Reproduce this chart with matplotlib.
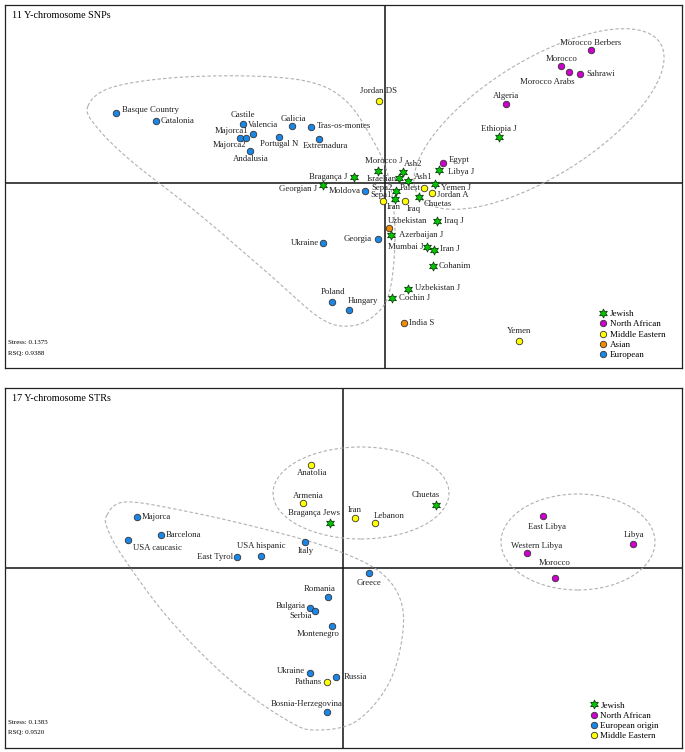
import numpy as np
import matplotlib
matplotlib.use("Agg")
import matplotlib.pyplot as plt
from matplotlib.patches import Ellipse
from matplotlib.lines import Line2D

plt.rcParams['font.family'] = ['Liberation Serif', 'DejaVu Serif']

# ---------------- 11 Y-chromosome SNPs ----------------
snp_names = ['Basque Country', 'Catalonia', 'Castile', 'Majorca1', 'Majorca2', 'Valencia',
             'Andalusia', 'Portugal N', 'Galicia', 'Tras-os-montes', 'Extremadura', 'Moldova',
             'Ukraine', 'Georgia', 'Poland', 'Hungary',
             'Bragança J', 'Georgian J', 'Morocco J', 'Ash2', 'Israelian', 'Ash1', 'Libya J',
             'Yemen J', 'Sepa2', 'Sepa1', 'Chuetas', 'Iraq J', 'Azerbaijan J', 'Mumbai J',
             'Iran J', 'Cohanim', 'Uzbekistan J', 'Cochin J', 'Ethiopia J',
             'Egypt', 'Algeria', 'Morocco', 'Morocco Arabs', 'Sahrawi', 'Morocco Berbers',
             'Jordan DS', 'Palest', 'Jordan A', 'Iran', 'Iraq', 'Yemen',
             'Uzbekistan', 'India S']
snp_x = [-2.69, -2.29, -1.42, -1.45, -1.39, -1.32, -1.35, -1.06, -0.93, -0.74, -0.66, -0.20,
         -0.62, -0.07, -0.53, -0.36,
         -0.31, -0.62, -0.07, 0.18, 0.14, 0.23, 0.54, 0.50, 0.11, 0.10, 0.34, 0.52, 0.06,
         0.42, 0.49, 0.48, 0.23, 0.07, 1.14,
         0.58, 1.21, 1.76, 1.84, 1.95, 2.06,
         -0.06, 0.39, 0.47, -0.02, 0.20, 1.34,
         0.04, 0.19]
snp_y = [0.70, 0.62, 0.59, 0.45, 0.45, 0.49, 0.32, 0.46, 0.57, 0.56, 0.44, -0.08,
         -0.60, -0.56, -1.19, -1.27,
         0.06, -0.02, 0.12, 0.11, 0.05, 0.02, 0.13, -0.01, -0.08, -0.16, -0.14, -0.38, -0.52,
         -0.64, -0.67, -0.83, -1.06, -1.15, 0.46,
         0.20, 0.79, 1.17, 1.11, 1.09, 1.33,
         0.82, -0.05, -0.10, -0.18, -0.18, -1.58,
         -0.45, -1.40]
snp_group = ['European'] * 16 + ['Jewish'] * 19 + ['North African'] * 6 + \
            ['Middle Eastern'] * 6 + ['Asian'] * 2
snp_groups = ['Jewish', 'North African', 'Middle Eastern', 'Asian', 'European']
snp_stats = ['Stress: 0.1375', 'RSQ: 0.9388']

# ---------------- 17 Y-chromosome STRs ----------------
str_names = ['Bragança Jews', 'Chuetas',
             'East Libya', 'Libya', 'Western Libya', 'Morocco',
             'Majorca', 'Barcelona', 'USA caucasic', 'East Tyrol', 'USA hispanic', 'Italy',
             'Greece', 'Romania', 'Bulgaria', 'Serbia', 'Montenegro', 'Ukraine', 'Russia',
             'Bosnia-Herzegovina',
             'Anatolia', 'Armenia', 'Iran', 'Lebanon', 'Pathans']
str_x = [-0.13, 0.93,
         2.00, 2.90, 1.84, 2.12,
         -2.06, -1.82, -2.15, -1.06, -0.82, -0.38,
         0.26, -0.15, -0.33, -0.28, -0.11, -0.33, -0.07, -0.16,
         -0.32, -0.40, 0.12, 0.32, -0.16]
str_y = [0.45, 0.63,
         0.52, 0.24, 0.15, -0.10,
         0.51, 0.33, 0.28, 0.11, 0.12, 0.26,
         -0.05, -0.29, -0.40, -0.43, -0.58, -1.05, -1.09, -1.44,
         1.03, 0.65, 0.50, 0.45, -1.14]
str_group = ['Jewish'] * 2 + ['North African'] * 4 + ['European origin'] * 14 + \
            ['Middle Eastern'] * 5
str_groups = ['Jewish', 'North African', 'European origin', 'Middle Eastern']
str_stats = ['Stress: 0.1383', 'RSQ: 0.9520']

# ---------------- styling / layout ----------------
colors = {'Jewish': '#00c800', 'North African': '#cc00cc', 'Middle Eastern': '#ffff00',
          'Asian': '#f08c00', 'European': '#1a86e6', 'European origin': '#1a86e6'}

# label offsets in pixels (dx, dy, ha)
snp_lab = {'Basque Country': (6, 3, 'left'), 'Catalonia': (5, 0, 'left'),
           'Castile': (0, 9, 'center'), 'Majorca1': (8, 7, 'right'),
           'Majorca2': (0, -7, 'right'), 'Valencia': (-5, 9, 'left'),
           'Andalusia': (1, -8, 'center'), 'Portugal N': (0, -7, 'center'),
           'Galicia': (1, 7, 'center'), 'Tras-os-montes': (6, 1, 'left'),
           'Extremadura': (6, -7, 'center'), 'Moldova': (-4, 0, 'right'),
           'Ukraine': (-4, 0, 'right'), 'Georgia': (-6, 0, 'right'),
           'Poland': (1, 10, 'center'), 'Hungary': (-1, 9, 'left'),
           'Bragança J': (-7, 0, 'right'), 'Georgian J': (-6, -4, 'right'),
           'Morocco J': (6, 10, 'center'), 'Ash2': (1, 8, 'left'),
           'Israelian': (-2, -1, 'right'), 'Ash1': (6, 4, 'left'),
           'Libya J': (9, -2, 'left'), 'Yemen J': (6, -4, 'left'),
           'Sepa2': (-3, 3, 'right'), 'Sepa1': (-3, 4, 'right'),
           'Chuetas': (5, -7, 'left'), 'Iraq J': (7, 0, 'left'),
           'Azerbaijan J': (8, 0, 'left'), 'Mumbai J': (-3, 0, 'right'),
           'Iran J': (6, 1, 'left'), 'Cohanim': (6, 0, 'left'),
           'Uzbekistan J': (7, 1, 'left'), 'Cochin J': (7, 0, 'left'),
           'Ethiopia J': (0, 8, 'center'), 'Egypt': (6, 3, 'left'),
           'Algeria': (0, 8, 'center'), 'Morocco': (1, 7, 'center'),
           'Morocco Arabs': (6, -10, 'right'), 'Sahrawi': (6, 0, 'left'),
           'Morocco Berbers': (0, 7, 'center'), 'Jordan DS': (0, 10, 'center'),
           'Palest': (-3, 0, 'right'), 'Jordan A': (5, -2, 'left'),
           'Iran': (4, -6, 'left'), 'Iraq': (2, -8, 'left'),
           'Yemen': (0, 10, 'center'), 'Uzbekistan': (-1, 7, 'left'),
           'India S': (5, 0, 'left')}
str_lab = {'Anatolia': (1, -8, 'center'), 'Armenia': (5, 7, 'center'),
           'Bragança Jews': (-16, 10, 'center'), 'Iran': (0, 8, 'center'),
           'Lebanon': (-1, 7, 'left'), 'Chuetas': (-10, 10, 'center'),
           'Italy': (1, -9, 'center'), 'Majorca': (5, 0, 'left'),
           'Barcelona': (5, 0, 'left'), 'USA caucasic': (5, -8, 'left'),
           'East Tyrol': (-4, 0, 'right'), 'USA hispanic': (0, 10, 'center'),
           'Greece': (0, -10, 'center'), 'Romania': (-8, 8, 'center'),
           'Bulgaria': (-4, 2, 'right'), 'Serbia': (-14, -5, 'center'),
           'Montenegro': (-14, -8, 'center'), 'Ukraine': (-5, 2, 'right'),
           'Pathans': (-5, 0, 'right'), 'Russia': (8, 0, 'left'),
           'Bosnia-Herzegovina': (-20, 8, 'center'), 'Libya': (1, 9, 'center'),
           'Western Libya': (10, 7, 'center'), 'Morocco': (0, 15, 'center'),
           'East Libya': (4, -11, 'center')}

# hand-traced cluster outlines (data units)
snp_loop = [(-2.97, 0.77), (-2.75, 0.95), (-2.15, 1.05), (-1.35, 1.07), (-0.75, 1.01),
            (-0.40, 0.83), (-0.15, 0.48), (0.03, 0.08), (0.10, -0.47), (0.05, -1.07),
            (-0.10, -1.32), (-0.35, -1.43), (-0.65, -1.35), (-1.15, -0.92), (-1.85, -0.32),
            (-2.55, 0.23), (-2.90, 0.58)]
str_loop = [(-2.36, 0.53), (-2.18, 0.66), (-1.63, 0.58), (-0.83, 0.40), (-0.13, 0.20),
            (0.37, -0.04), (0.59, -0.37), (0.57, -0.82), (0.42, -1.22), (0.12, -1.54),
            (-0.25, -1.62), (-0.53, -1.54), (-1.13, -1.12), (-1.73, -0.52), (-2.18, 0.08),
            (-2.35, 0.38)]


def closed_curve(pts, n=30):
    p = np.array(pts)
    m = len(p)
    out = []
    for i in range(m):
        p0, p1, p2, p3 = p[i - 1], p[i], p[(i + 1) % m], p[(i + 2) % m]
        t = np.linspace(0, 1, n, endpoint=False)[:, None]
        out.append(0.5 * ((2 * p1) + (-p0 + p2) * t + (2 * p0 - 5 * p1 + 4 * p2 - p3) * t ** 2
                          + (-p0 + 3 * p1 - 3 * p2 + p3) * t ** 3))
    out = np.vstack(out)
    return np.vstack([out, out[:1]])


def draw_points(ax, names, xs, ys, groups, labels):
    for n, x, y, g in zip(names, xs, ys, groups):
        if g == 'Jewish':
            ax.scatter(x, y, s=42, marker=(6, 1, 0), c=colors[g], edgecolors='#104010',
                       linewidths=0.6, zorder=4)
        else:
            ax.scatter(x, y, s=22, marker='o', c=colors[g], edgecolors='#333333',
                       linewidths=0.6, zorder=4)
        dx, dy, ha = labels[n]
        ax.annotate(n, (x, y), xytext=(dx, dy), textcoords='offset pixels', ha=ha,
                    va='center', fontsize=6.3, color='#222222', zorder=5)


def legend(ax, groups, anchor):
    handles = []
    for g in groups:
        if g == 'Jewish':
            h = Line2D([], [], ls='', marker=(6, 1, 0), ms=6.5, mfc=colors[g],
                       mec='#104010', mew=0.6, label=g)
        else:
            h = Line2D([], [], ls='', marker='o', ms=4.6, mfc=colors[g],
                       mec='#333333', mew=0.6, label=g)
        handles.append(h)
    ax.legend(handles=handles, loc='lower left', bbox_to_anchor=anchor, frameon=False,
              fontsize=6.5, handlelength=0.6, handletextpad=0.4, labelspacing=0.22,
              borderpad=0, borderaxespad=0)


def setup(ax, xlim, ylim):
    ax.set_xlim(xlim)
    ax.set_ylim(ylim)
    ax.set_xticks([])
    ax.set_yticks([])
    for s in ax.spines.values():
        s.set_linewidth(0.9)
        s.set_color('#222222')
    ax.axhline(0, color='#111111', lw=1.1, zorder=1)
    ax.axvline(0, color='#111111', lw=1.1, zorder=1)


W, H = 685, 752
fig = plt.figure(figsize=(W / 100, H / 100), dpi=100)

# top panel
ax1 = fig.add_axes([5 / W, 1 - 368 / H, 677 / W, 363 / H])
setup(ax1, (-3.80, 2.97), (-1.85, 1.78))
c = closed_curve(snp_loop)
ax1.plot(c[:, 0], c[:, 1], ls=(0, (3, 2)), color='#b0b0b0', lw=0.8, zorder=2)
ax1.add_patch(Ellipse((1.54, 0.64), 2.86, 1.16, angle=32, fill=False, ls=(0, (3, 2)),
                      ec='#b0b0b0', lw=0.8, zorder=2))
draw_points(ax1, snp_names, snp_x, snp_y, snp_group, snp_lab)
ax1.text(0.0105, 0.97, '11 Y-chromosome SNPs', transform=ax1.transAxes, fontsize=7.3,
         va='center', ha='left')
ax1.text(0.005, 0.069, snp_stats[0], transform=ax1.transAxes, fontsize=5.0, va='center')
ax1.text(0.005, 0.039, snp_stats[1], transform=ax1.transAxes, fontsize=5.0, va='center')
legend(ax1, snp_groups, (0.880, 0.024))

# bottom panel
ax2 = fig.add_axes([5 / W, 1 - 748 / H, 677 / W, 360 / H])
setup(ax2, (-3.38, 3.39), (-1.80, 1.80))
c = closed_curve(str_loop)
ax2.plot(c[:, 0], c[:, 1], ls=(0, (3, 2)), color='#b0b0b0', lw=0.8, zorder=2)
ax2.add_patch(Ellipse((0.18, 0.75), 1.76, 0.92, fill=False, ls=(0, (3, 2)),
                      ec='#b0b0b0', lw=0.8, zorder=2))
ax2.add_patch(Ellipse((2.35, 0.26), 1.54, 0.96, fill=False, ls=(0, (3, 2)),
                      ec='#b0b0b0', lw=0.8, zorder=2))
draw_points(ax2, str_names, str_x, str_y, str_group, str_lab)
ax2.text(0.0105, 0.97, '17 Y-chromosome STRs', transform=ax2.transAxes, fontsize=7.3,
         va='center', ha='left')
ax2.text(0.005, 0.072, str_stats[0], transform=ax2.transAxes, fontsize=5.0, va='center')
ax2.text(0.005, 0.044, str_stats[1], transform=ax2.transAxes, fontsize=5.0, va='center')
legend(ax2, str_groups, (0.866, 0.021))

fig.savefig('out.png', dpi=100)
